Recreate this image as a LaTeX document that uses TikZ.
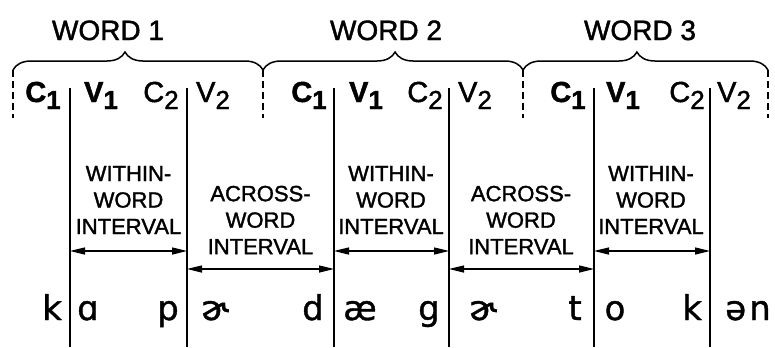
\documentclass[tikz,border=0pt]{standalone}
\usepackage{fontspec}
\setmainfont{Liberation Sans}[FakeBold=1.5]
\newfontfamily\ipafont{DejaVu Sans}[FakeBold=1.2]
\usetikzlibrary{arrows.meta,decorations.pathreplacing}
% index set almost at full size and dropped below the baseline
\newcommand\lowidx[1]{\raisebox{-7bp}{\fontsize{26bp}{26bp}\selectfont #1}}

\begin{document}
\begin{tikzpicture}[x=1bp,y=-1bp,
  every node/.style={inner sep=0pt, outer sep=0pt},
  wordlbl/.style={font=\fontsize{28bp}{30bp}\selectfont, anchor=base},
  hdbold/.style={font=\fontsize{29bp}{30bp}\selectfont\bfseries, anchor=base},
  hdreg/.style={font=\fontsize{29bp}{30bp}\selectfont, anchor=base},
  ivl/.style={font=\fontsize{22bp}{26.5bp}\selectfont, align=center},
  phon/.style={font=\ipafont\fontsize{34bp}{36bp}\selectfont, anchor=base},
  bar/.style={line width=1.8bp},
  seg/.style={line width=1.5bp, dash pattern=on 7bp off 4bp},
  brc/.style={line width=1.5bp, decorate, decoration={brace, amplitude=18bp, aspect=#1}},
  span/.style={line width=1.3bp, {Triangle[length=15bp,width=7bp]}-{Triangle[length=15bp,width=7bp]}},
]
\useasboundingbox (0,0) rectangle (775,347);

% word labels
\node[wordlbl] (word1) at (108,40) {WORD 1};
\node[wordlbl] (word2) at (386,40) {WORD 2};
\node[wordlbl] (word3) at (640,40) {WORD 3};

% word boundaries
\coordinate (b0) at (13,70);  \coordinate (b0d) at (13,118);
\coordinate (b1) at (263,70); \coordinate (b1d) at (263,118);
\coordinate (b2) at (523,70); \coordinate (b2d) at (523,118);
\coordinate (b3) at (768,70); \coordinate (b3d) at (768,118);

\draw[brc=0.448] (b0) -- (b1);
\draw[brc=0.508] (b1) -- (b2);
\draw[brc=0.465] (b2) -- (b3);

\draw[seg] (b0) -- (b0d);
\draw[seg] (b1) -- (b1d);
\draw[seg] (b2) -- (b2d);
\draw[seg] (b3) -- (b3d);

% segment labels
\node[hdbold] (c1a) at (43,102)  {C\lowidx{1}};
\node[hdbold] (v1a) at (101,102) {V\lowidx{1}};
\node[hdreg]  (c2a) at (161,102) {C\lowidx{2}};
\node[hdreg]  (v2a) at (213,102) {V\lowidx{2}};
\node[hdbold] (c1b) at (309,102) {C\lowidx{1}};
\node[hdbold] (v1b) at (366,102) {V\lowidx{1}};
\node[hdreg]  (c2b) at (425,102) {C\lowidx{2}};
\node[hdreg]  (v2b) at (475,102) {V\lowidx{2}};
\node[hdbold] (c1c) at (568,102) {C\lowidx{1}};
\node[hdbold] (v1c) at (623,102) {V\lowidx{1}};
\node[hdreg]  (c2c) at (687,102) {C\lowidx{2}};
\node[hdreg]  (v2c) at (734,102) {V\lowidx{2}};

% segment boundaries
\foreach \n/\x in {1/70,2/187,3/334,4/449,5/594,6/710}{
  \coordinate (t\n) at (\x,88);
  \coordinate (u\n) at (\x,347);
  \draw[bar] (t\n) -- (u\n);
}

% interval spans
\coordinate (wa1) at (70,251);  \coordinate (wa2) at (187,251);
\coordinate (aa1) at (187,269); \coordinate (aa2) at (334,269);
\coordinate (wb1) at (334,251); \coordinate (wb2) at (449,251);
\coordinate (ab1) at (449,269); \coordinate (ab2) at (594,269);
\coordinate (wc1) at (594,251); \coordinate (wc2) at (710,251);

\draw[span] (wa1) -- (wa2);
\draw[span] (aa1) -- (aa2);
\draw[span] (wb1) -- (wb2);
\draw[span] (ab1) -- (ab2);
\draw[span] (wc1) -- (wc2);

\node[ivl] (within1) at (128.5,200) {WITHIN-\\WORD\\INTERVAL};
\node[ivl] (across1) at (260.5,220) {ACROSS-\\WORD\\INTERVAL};
\node[ivl] (within2) at (391,200)   {WITHIN-\\WORD\\INTERVAL};
\node[ivl] (across2) at (521,220)   {ACROSS-\\WORD\\INTERVAL};
\node[ivl] (within3) at (651,200)   {WITHIN-\\WORD\\INTERVAL};

% phonetic transcription
\node[phon] (p1)  at (52,320)  {k};
\node[phon] (p2)  at (88,320)  {ɑ};
\node[phon] (p3)  at (168,320) {p};
\node[phon] (p4)  at (215,320) {ɚ};
\node[phon] (p5)  at (313,320) {d};
\node[phon] (p6)  at (360,320) {æ};
\node[phon] (p7)  at (429,320) {g};
\node[phon] (p8)  at (483,320) {ɚ};
\node[phon] (p9)  at (575,320) {t};
\node[phon] (p10) at (615,320) {o};
\node[phon] (p11) at (692,320) {k};
\node[phon] (p12) at (748,320) {ə\kern3bp n};
\end{tikzpicture}
\end{document}
